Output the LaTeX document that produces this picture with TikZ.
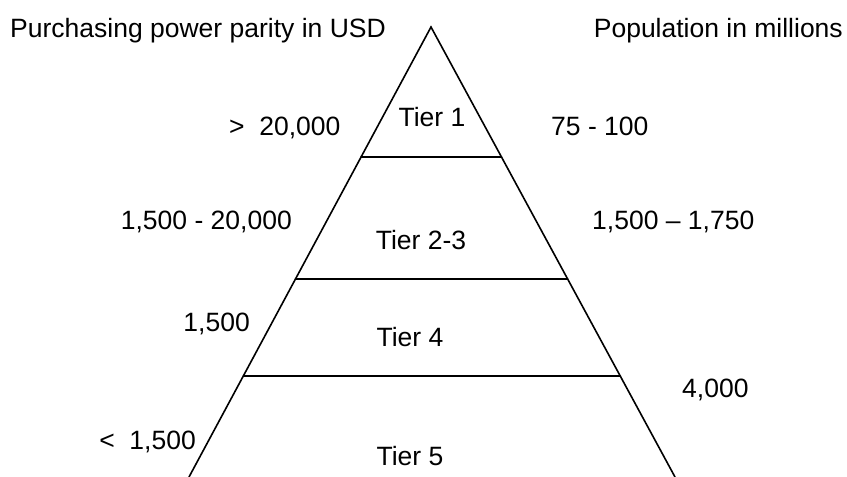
\documentclass[tikz,border=0pt]{standalone}
\usepackage{fontspec}
\setmainfont{Liberation Sans}
\usetikzlibrary{calc}
\begin{document}
\begin{tikzpicture}[x=1pt,y=-1pt,
  lbl/.style={inner sep=0pt,font=\fontsize{26.5}{30}\selectfont},
  edge/.style={line width=1.6pt,line cap=round}]
\useasboundingbox (0,0) rectangle (847,477);
\coordinate (apex) at (431,27);
\coordinate (bl) at (189,477);
\coordinate (br) at (675,477);
\coordinate (l1) at ($(apex)!0.2889!(bl)$);
\coordinate (r1) at ($(apex)!0.2889!(br)$);
\coordinate (l2) at ($(apex)!0.56!(bl)$);
\coordinate (r2) at ($(apex)!0.56!(br)$);
\coordinate (l3) at ($(apex)!0.7756!(bl)$);
\coordinate (r3) at ($(apex)!0.7756!(br)$);
\draw[edge] (bl) -- (apex) -- (br);
\draw[edge] (l1) -- (r1);
\draw[edge] (l2) -- (r2);
\draw[edge] (l3) -- (r3);
\node[lbl,anchor=base west] (ppp) at (10,37) {Purchasing power parity in USD};
\node[lbl,anchor=base east] (pop) at (843,37) {Population in millions};
\node[lbl,anchor=base west] (p1) at (229,135) {>\ \ 20,000};
\node[lbl,anchor=base] (t1) at (432,126) {Tier 1};
\node[lbl,anchor=base west] (n1) at (551,135) {75 - 100};
\node[lbl,anchor=base east] (p2) at (292,229) {1,500 - 20,000};
\node[lbl,anchor=base] (t2) at (421,249) {Tier 2-3};
\node[lbl,anchor=base west] (n2) at (592,229) {1,500 – 1,750};
\node[lbl,anchor=base east] (p3) at (250,331) {1,500};
\node[lbl,anchor=base] (t4) at (410,346) {Tier 4};
\node[lbl,anchor=base west] (n4) at (682,397) {4,000};
\node[lbl,anchor=base east] (p5) at (196,449) {<\ \ 1,500};
\node[lbl,anchor=base] (t5) at (410,465) {Tier 5};
\end{tikzpicture}
\end{document}
